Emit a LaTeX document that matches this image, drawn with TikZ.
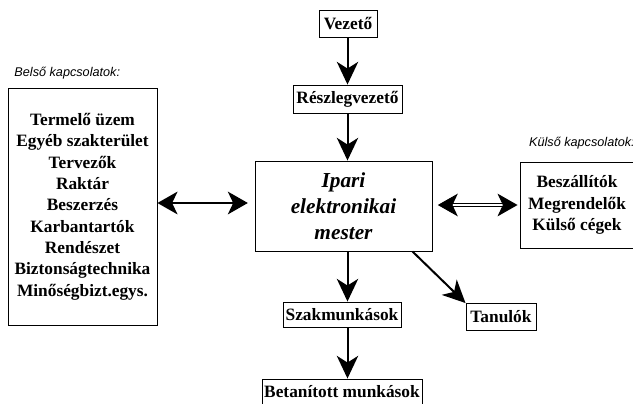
\documentclass[tikz,border=0pt]{standalone}
\usepackage{fontspec}
\setmainfont{Liberation Serif}
\setsansfont{Liberation Sans}
\usetikzlibrary{arrows.meta}

\tikzset{
  box/.style={draw,line width=.7pt,inner sep=1pt,align=center,
    font=\fontsize{13}{16}\selectfont\bfseries},
  arr/.style={line width=1.5pt,-{Stealth[length=17pt,width=16pt,inset=5pt]}},
  dblarr/.style={line width=1.5pt,{Stealth[length=15pt,width=17pt,inset=4pt]}-{Stealth[length=15pt,width=17pt,inset=4pt]}},
  kapcs/.style={font=\fontsize{9.5}{11}\selectfont\sffamily\itshape,inner sep=0pt}
}

\begin{document}
\begin{tikzpicture}[x=.75pt,y=-.75pt]
  \useasboundingbox (0,0) rectangle (633,404);

  % The chain of command in the middle
  \node [box,minimum width=43.5pt,minimum height=20.25pt] (vez) at (348,23.5) {Vezető};
  \node [box,minimum width=81.75pt,minimum height=21pt] (res) at (347.5,99) {Részlegvezető};
  \node [box,minimum width=132.75pt,minimum height=67.5pt,
         font=\fontsize{16}{19.5}\selectfont\bfseries\itshape] (ipari) at (343.5,206)
        {Ipari\\elektronikai\\mester};
  \node [box,minimum width=88.5pt,minimum height=18.75pt] (szak) at (342,314.5) {Szakmunkások};
  \node [box,minimum width=120pt,minimum height=18.75pt] (bet) at (342,391.5) {Betanított munkások};
  \node [box,minimum width=52.5pt,minimum height=20.25pt] (tan) at (501,317) {Tanulók};
  \coordinate (axis) at (347.5,0);

  % Internal and external contacts
  \node [box,minimum width=111.75pt,minimum height=177.75pt] (belso) at (82.5,206.5)
        {Termelő üzem\\Egyéb szakterület\\Tervezők\\Raktár\\Beszerzés\\Karbantartók\\Rendészet\\Biztonságtechnika\\Minőségbizt.egys.};
  \node [box,minimum width=85.5pt,minimum height=64.5pt] (kulso) at (577,205)
        {Beszállítók\\Megrendelők\\Külső cégek};
  \node [kapcs,anchor=south west] (belsolab) at ([xshift=5pt,yshift=6pt]belso.north west) {Belső kapcsolatok:};
  \node [kapcs,anchor=south west] (kulsolab) at ([xshift=7pt,yshift=9pt]kulso.north west) {Külső kapcsolatok:};

  % Arrows down the chain
  \foreach \a/\b in {vez/res, res/ipari, ipari/szak, szak/bet} {
    \draw [arr] (\a.south -| axis) -- (\b.north -| axis);
  }
  \draw [arr] ([xshift=-15pt]ipari.south east) -- (tan.north west);

  % Two way arrows to the contacts
  \draw [dblarr] (belso.east |- 0,203) -- ([xshift=-5pt]ipari.west |- 0,203);
  \draw [dblarr,double,double distance=1pt,line width=.8pt] ([xshift=4pt]ipari.east |- 0,205) -- ([xshift=-1.5pt]kulso.west |- 0,205);
\end{tikzpicture}
\end{document}
